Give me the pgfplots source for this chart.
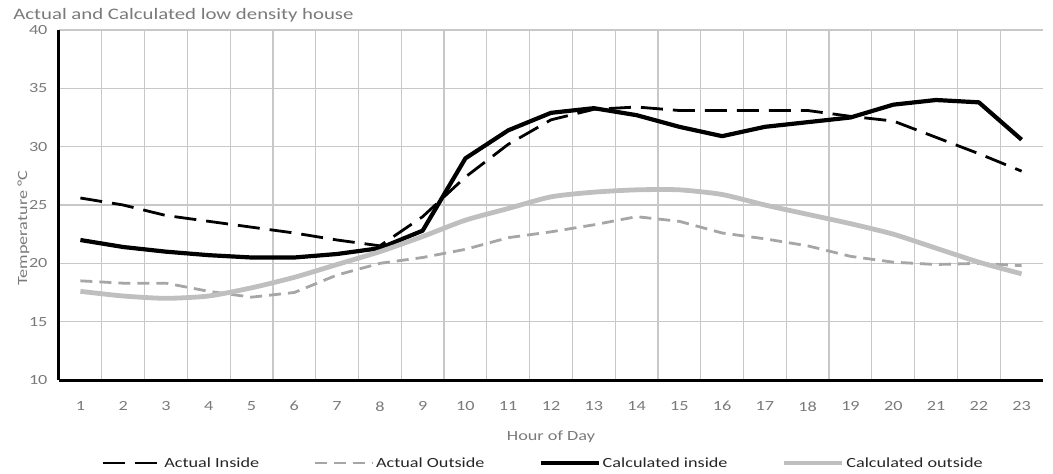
\documentclass[border=0pt]{standalone}
\usepackage{fontspec}
\setmainfont{Carlito}[FakeStretch=1.3]
\usepackage{pgfplots}
\pgfplotsset{compat=1.18}
\definecolor{txt}{HTML}{7A7A7A}
\definecolor{gridc}{HTML}{C8C8C8}
\definecolor{aout}{HTML}{A6A6A6}
\definecolor{cout}{HTML}{BFBFBF}
\definecolor{legt}{HTML}{262626}
\begin{document}
\begin{tikzpicture}
\begin{axis}[
 scale only axis, width=984pt, height=350pt,
 xmin=0.5, xmax=23.5, ymin=10, ymax=40,
 xtick={1,...,23}, ytick={10,15,...,40},
 minor xtick={1.5,2.5,...,22.5},
 xminorgrids, ymajorgrids,
 grid style={gridc, line width=1.2pt},
 minor grid style={gridc, line width=1.2pt},
 major tick length=0pt, minor tick length=0pt,
 axis x line*=bottom, axis y line*=left,
 axis line style={black, line width=3pt, -},
 /pgf/number format/assume math mode=true,
 tick label style={font=\fontsize{14}{16}\selectfont, text=txt},
 xticklabel style={yshift=-18pt},
 yticklabel style={xshift=-8pt},
 xlabel={Hour of Day},
 xlabel style={font=\fontsize{14}{16}\selectfont, text=txt, at={(axis description cs:0.5,-0.163)}, anchor=center},
 ylabel={Temperature °C},
 ylabel style={font=\fontsize{14}{16}\selectfont, text=txt, at={(axis description cs:-0.036,0.434)}, anchor=center, rotate=0},
 title={Actual and Calculated low density house},
 title style={font=\fontsize{16}{18}\selectfont, text=txt, at={(axis description cs:-0.05,1.025)}, anchor=west},
 legend columns=4,
 legend style={draw=none, fill=none, at={(axis description cs:0.492,-0.237)}, anchor=center,
   font=\fontsize{14}{16}\selectfont, text=legt,
   /tikz/every even column/.append style={column sep=52pt}},
 legend image code/.code={\draw[#1] (0pt,0pt) -- (58pt,0pt);},
 line join=round,
]
\addplot[black, line width=2.8pt, dash pattern=on 22pt off 10pt] coordinates {
(1,25.6)(2,25.0)(3,24.1)(4,23.6)(5,23.1)(6,22.6)(7,22.0)(8,21.5)(9,24.0)(10,27.4)(11,30.2)(12,32.3)(13,33.2)(14,33.4)(15,33.1)(16,33.1)(17,33.1)(18,33.1)(19,32.6)(20,32.2)(21,30.8)(22,29.4)(23,27.9)};
\addlegendentry{Actual Inside}
\addplot[aout, line width=2.8pt, dash pattern=on 12pt off 7pt] coordinates {
(1,18.5)(2,18.3)(3,18.3)(4,17.6)(5,17.1)(6,17.5)(7,19.0)(8,20.0)(9,20.5)(10,21.2)(11,22.2)(12,22.7)(13,23.3)(14,24.0)(15,23.6)(16,22.6)(17,22.1)(18,21.5)(19,20.6)(20,20.1)(21,19.9)(22,20.0)(23,19.8)};
\addlegendentry{Actual Outside}
\addplot[black, line width=4.2pt] coordinates {
(1,22.0)(2,21.4)(3,21.0)(4,20.7)(5,20.5)(6,20.5)(7,20.8)(8,21.3)(9,22.8)(10,29.0)(11,31.4)(12,32.9)(13,33.3)(14,32.7)(15,31.7)(16,30.9)(17,31.7)(18,32.1)(19,32.5)(20,33.6)(21,34.0)(22,33.8)(23,30.6)};
\addlegendentry{Calculated inside}
\addplot[cout, line width=4.8pt, smooth, tension=0.4] coordinates {
(1,17.6)(2,17.2)(3,17.0)(4,17.2)(5,17.9)(6,18.8)(7,19.9)(8,21.0)(9,22.3)(10,23.7)(11,24.7)(12,25.7)(13,26.1)(14,26.3)(15,26.3)(16,25.9)(17,25.0)(18,24.2)(19,23.4)(20,22.5)(21,21.3)(22,20.1)(23,19.1)};
\addlegendentry{Calculated outside}
\end{axis}
\path ([shift={(-59pt,-94pt)}]current axis.south west) rectangle ([shift={(10pt,30pt)}]current axis.north east);
\end{tikzpicture}
\end{document}
